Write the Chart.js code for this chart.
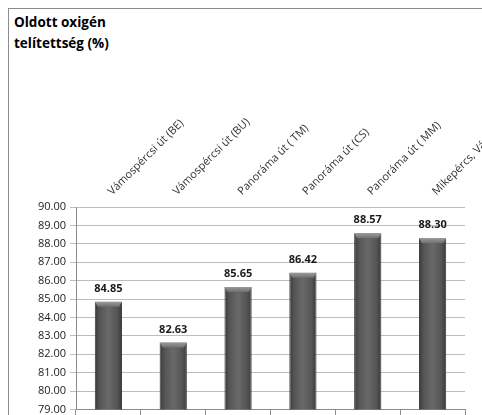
<!DOCTYPE html>
<html>
<head>
<meta charset="utf-8">
<script src="https://cdn.jsdelivr.net/npm/chart.js@4/dist/chart.umd.min.js"></script>
<style>
  html, body { margin: 0; padding: 0; background: #fff; overflow: hidden; }
  body { width: 482px; height: 415px; position: relative; }
  #frame { position: absolute; left: 8px; top: 8px; width: 600px; height: 600px;
           border: 1px solid #8c8c8c; box-sizing: border-box; }
  #title { position: absolute; left: 14px; top: 12px; font-family: "Open Sans", sans-serif;
           font-weight: bold; font-size: 13.5px; line-height: 21px; color: #000; }
  #wrap { position: absolute; left: 0; top: 0; width: 482px; height: 420px; }
</style>
</head>
<body>
<div id="frame"></div>
<div id="title">Oldott oxigén<br>telítettség (%)</div>
<div id="wrap"><canvas id="c" width="482" height="420"></canvas></div>
<script>
// Sampling sites and dissolved-oxygen saturation (%)
const categories = [
  'Vámospércsi út (BE)',
  'Vámospércsi út (BU)',
  'Panoráma út ( TM)',
  'Panoráma út (CS)',
  'Panoráma út ( MM)',
  'Mikepércs, Vámospércsi út'
];
const saturation = [84.85, 82.63, 85.65, 86.42, 88.57, 88.30];
const yTicks = [79, 80, 81, 82, 83, 84, 85, 86, 87, 88, 89, 90];

const BAR_FRACTION = 0.42;

// Cylinder-like shading across each bar
function barFill(ctx) {
  const chart = ctx.chart;
  const xs = chart.scales.x;
  if (!xs || !chart.chartArea) return '#5a5a5a';
  const cx = xs.getPixelForValue(ctx.dataIndex);
  const w = (xs.width / categories.length) * BAR_FRACTION;
  const g = chart.ctx.createLinearGradient(cx - w / 2, 0, cx + w / 2, 0);
  g.addColorStop(0, '#3a3a3a');
  g.addColorStop(0.18, '#555555');
  g.addColorStop(0.5, '#696969');
  g.addColorStop(0.82, '#555555');
  g.addColorStop(1, '#3a3a3a');
  return g;
}

// Bevelled cap on top of each bar
const barCaps = {
  id: 'barCaps',
  afterDatasetsDraw(chart) {
    const ctx = chart.ctx;
    chart.getDatasetMeta(0).data.forEach(bar => {
      const half = bar.width / 2;
      const l = bar.x - half, r = bar.x + half, t = bar.y;
      ctx.save();
      ctx.beginPath();
      ctx.moveTo(l, t);
      ctx.lineTo(r, t);
      ctx.lineTo(r - 3, t + 5);
      ctx.lineTo(l + 3, t + 5);
      ctx.closePath();
      const g = ctx.createLinearGradient(0, t, 0, t + 5);
      g.addColorStop(0, '#9a9a9a');
      g.addColorStop(1, '#6e6e6e');
      ctx.fillStyle = g;
      ctx.fill();
      ctx.restore();
    });
  }
};

// Value labels above the bars
const valueLabels = {
  id: 'valueLabels',
  afterDatasetsDraw(chart) {
    const ctx = chart.ctx;
    const ds = chart.data.datasets[0];
    ctx.save();
    ctx.font = 'bold 11px "Open Sans", sans-serif';
    ctx.fillStyle = '#1a1a1a';
    ctx.textAlign = 'center';
    ctx.textBaseline = 'middle';
    chart.getDatasetMeta(0).data.forEach((bar, i) => {
      ctx.fillText(ds.data[i].toFixed(2), bar.x, bar.y - 13);
    });
    ctx.restore();
  }
};

new Chart(document.getElementById('c'), {
  type: 'bar',
  data: {
    labels: categories,
    datasets: [{
      data: saturation,
      backgroundColor: barFill,
      borderColor: '#3a3a3a',
      borderWidth: 1,
      borderSkipped: 'bottom',
      categoryPercentage: 1,
      barPercentage: BAR_FRACTION
    }]
  },
  options: {
    responsive: false,
    animation: false,
    devicePixelRatio: 1,
    layout: { padding: { left: 0, top: 0, right: 17, bottom: 0 } },
    plugins: { legend: { display: false }, title: { display: false }, tooltip: { enabled: false } },
    scales: {
      x: {
        type: 'category',
        position: 'top',
        offset: true,
        grid: { display: false, drawTicks: false },
        border: { display: false },
        ticks: {
          autoSkip: false,
          minRotation: 45,
          maxRotation: 45,
          padding: 9,
          labelOffset: 11,
          color: '#333333',
          font: { family: '"Open Sans", sans-serif', size: 11 }
        },
        afterFit(scale) {
          scale.height = 207;
          scale.paddingLeft = 0;
          scale.paddingRight = 0;
        }
      },
      xb: {
        type: 'category',
        position: 'bottom',
        labels: categories,
        offset: true,
        grid: { offset: true, drawOnChartArea: false, color: '#8c8c8c', tickLength: 6 },
        border: { color: '#8c8c8c' },
        ticks: { display: false },
        afterFit(scale) {
          scale.height = 10;
          scale.paddingLeft = 0;
          scale.paddingRight = 0;
        }
      },
      y: {
        min: 79,
        max: 90,
        afterBuildTicks(scale) {
          scale.ticks = yTicks.map(v => ({ value: v }));
        },
        grid: { color: '#bdbdbd', tickLength: 6 },
        border: { color: '#8c8c8c' },
        ticks: {
          padding: 4,
          color: '#222222',
          font: { family: '"Open Sans", sans-serif', size: 11 },
          callback: v => Number(v).toFixed(2)
        },
        afterFit(scale) {
          scale.width = 76;
        }
      }
    }
  },
  plugins: [barCaps, valueLabels]
});
</script>
</body>
</html>
